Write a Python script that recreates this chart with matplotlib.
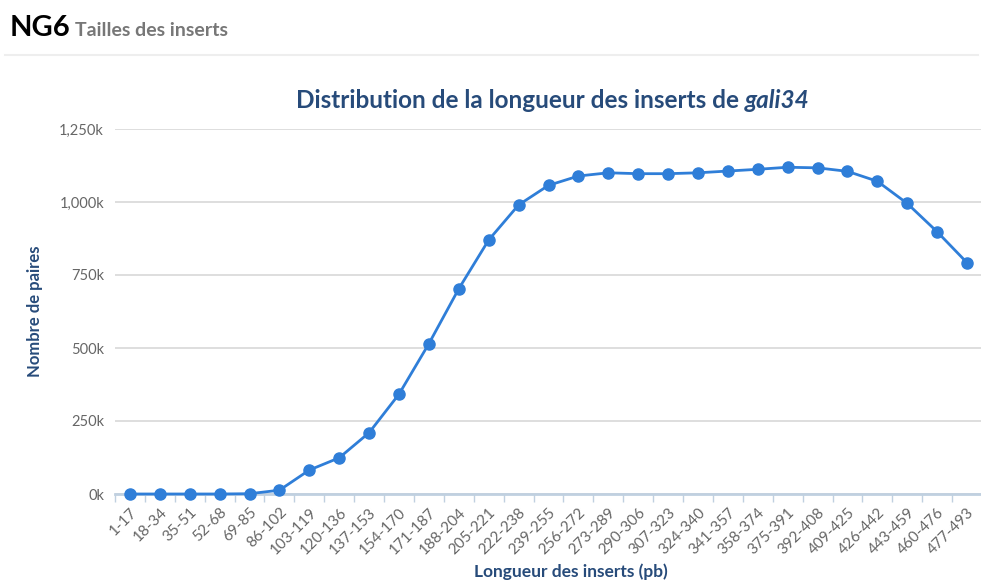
import matplotlib.pyplot as plt
from matplotlib.ticker import FuncFormatter, FixedLocator

plt.rcParams['font.family'] = ['Lato', 'DejaVu Sans']

# size classes (pb) and number of read pairs per class
categories = ['1-17', '18-34', '35-51', '52-68', '69-85', '86-102', '103-119',
              '120-136', '137-153', '154-170', '171-187', '188-204', '205-221',
              '222-238', '239-255', '256-272', '273-289', '290-306', '307-323',
              '324-340', '341-357', '358-374', '375-391', '392-408', '409-425',
              '426-442', '443-459', '460-476', '477-493']
pairs = [0, 0, 0, 0, 1000, 13000, 82000, 124000, 210000, 342000, 515000,
         703000, 870000, 990000, 1057000, 1089000, 1100000, 1097000, 1097000,
         1100000, 1106000, 1112000, 1119000, 1117000, 1105000, 1071000,
         995000, 898000, 792000]
yticks = [0, 250000, 500000, 750000, 1000000, 1250000]

blue = '#2f7ed8'
navy = '#274b7a'
grey = '#666666'

fig = plt.figure(figsize=(9.81, 5.83), dpi=100)
ax = fig.add_axes([115 / 981, 1 - 494 / 583, (982 - 115) / 981, (494 - 129) / 583])

x = list(range(len(categories)))
ax.plot(x, pairs, color=blue, lw=2, marker='o', ms=8, mec=blue, mfc=blue,
        clip_on=False, zorder=3)

ax.set_xlim(-0.5, len(categories) - 0.5)
ax.set_ylim(0, 1250000)
ax.set_yticks(yticks)
ax.yaxis.set_major_formatter(FuncFormatter(lambda v, p: '{:,}k'.format(int(v / 1000))))
ax.grid(axis='y', color='#d8d8d8', lw=1.2)
ax.set_axisbelow(True)

ax.set_xticks(x)
ax.set_xticklabels(categories, rotation=45, ha='right', rotation_mode='anchor',
                   color=grey, fontsize=11)
ax.xaxis.set_minor_locator(FixedLocator([i - 0.5 for i in range(len(categories) + 1)]))
ax.tick_params(axis='x', which='major', length=0, pad=8)
ax.tick_params(axis='x', which='minor', length=6, color='#c0d0e0', width=1)
ax.tick_params(axis='y', length=0, labelcolor=grey, labelsize=10.5, pad=8)

for side in ['top', 'right', 'left']:
    ax.spines[side].set_visible(False)
ax.spines['bottom'].set_color('#c0d0e0')
ax.spines['bottom'].set_linewidth(2)

ax.set_ylabel('Nombre de paires', color=navy, fontsize=12, fontweight='bold')
ax.yaxis.set_label_coords(-72 / 867, 0.5)
ax.set_xlabel('Longueur des inserts (pb)', color=navy, fontsize=12.5, fontweight='bold')
ax.xaxis.set_label_coords((571 - 115) / 867, -(572 - 494) / 365)
ax.xaxis.label.set_va('center')

# title: plain part then italic sample name
r = fig.canvas.get_renderer()
t1 = fig.text(296 / 981, 1 - 100 / 583, 'Distribution de la longueur des inserts de ',
              ha='left', va='center', color=navy, fontsize=17.5, fontweight='bold')
bb = t1.get_window_extent(r)
fig.text(bb.x1 / fig.bbox.width, 1 - 100 / 583, 'gali34', ha='left', va='center',
         color=navy, fontsize=17.5, fontweight='bold', fontstyle='italic')

# page header
fig.text(10 / 981, 1 - 28 / 583, 'NG6', fontsize=21, fontweight='bold', color='black', va='center')
fig.text(75 / 981, 1 - 30 / 583, 'Tailles des inserts', fontsize=14, fontweight='bold',
         color='#777777', va='center')
fig.add_artist(plt.Line2D([5 / 981, 978 / 981], [1 - 55 / 583] * 2, color='#eeeeee', lw=1.5))

fig.savefig('out.png', dpi=100)
